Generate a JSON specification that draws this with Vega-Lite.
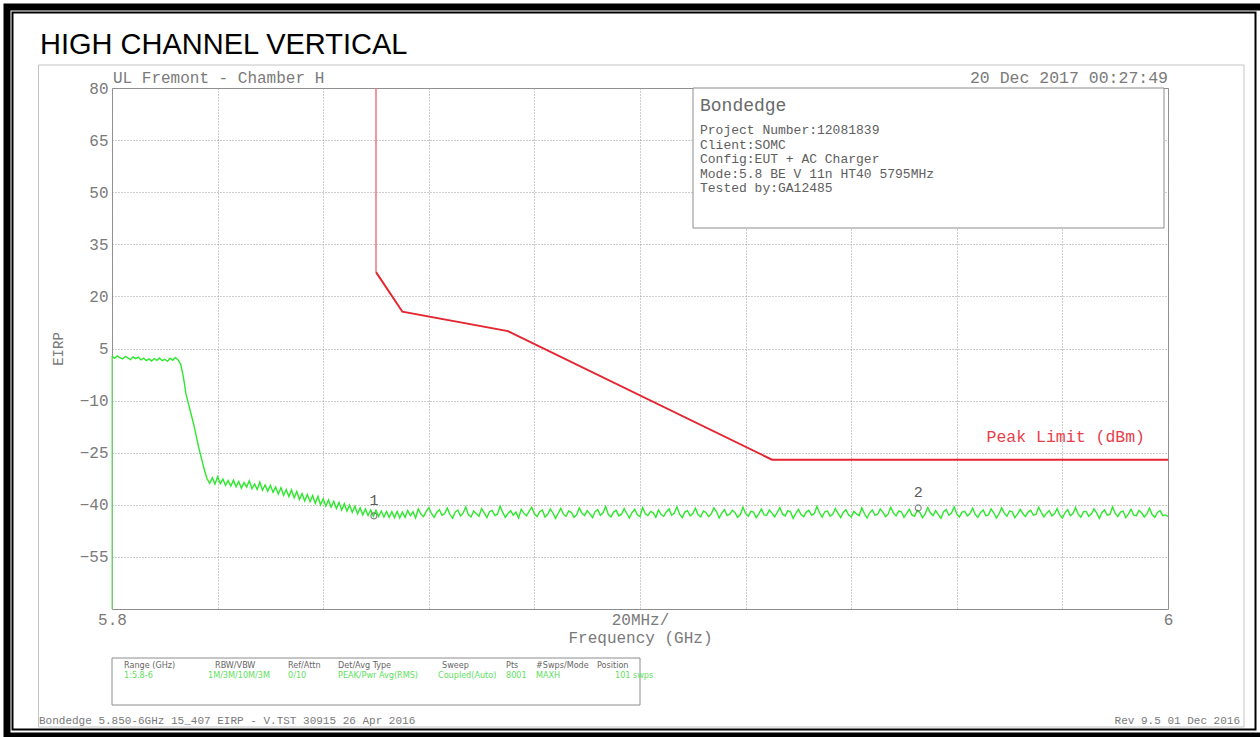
{
  "$schema": "https://vega.github.io/schema/vega-lite/v6.json",
  "width": 1056,
  "height": 521,
  "autosize": {"type": "none"},
  "padding": {"left": 112, "top": 88, "right": 92, "bottom": 128},
  "background": "white",
  "config": {"view": {"stroke": "#8c8c8c", "strokeWidth": 1}},
  "encoding": {
    "x": {
      "field": "f", "type": "quantitative",
      "scale": {"domain": [5.8, 6.0], "nice": false, "zero": false},
      "axis": {
        "values": [5.8, 5.82, 5.84, 5.86, 5.88, 5.9, 5.92, 5.94, 5.96, 5.98, 6],
        "labelExpr": "datum.value == 5.8 ? '5.8' : datum.value == 5.9 ? '20MHz/' : datum.value == 6 ? '6' : ''",
        "title": "Frequency (GHz)",
        "domain": false, "ticks": false, "grid": true,
        "gridColor": "#999999", "gridDash": [1, 2], "gridWidth": 1,
        "labelFont": "Liberation Mono", "labelFontSize": 16, "labelColor": "#7a7a7a",
        "labelPadding": 2, "labelOverlap": false, "labelFlush": false, "labelBound": false,
        "titleFont": "Liberation Mono", "titleFontSize": 16, "titleFontWeight": "normal",
        "titleColor": "#7a7a7a", "titlePadding": 2
      }
    },
    "y": {
      "field": "v", "type": "quantitative",
      "scale": {"domain": [-70, 80], "nice": false, "zero": false},
      "axis": {
        "values": [-55, -40, -25, -10, 5, 20, 35, 50, 65, 80],
        "title": "EIRP",
        "domain": false, "ticks": false, "grid": true,
        "gridColor": "#999999", "gridDash": [1, 2], "gridWidth": 1,
        "labelFont": "Liberation Mono", "labelFontSize": 16, "labelColor": "#7a7a7a",
        "labelPadding": 4, "labelOverlap": false,
        "titleFont": "Liberation Mono", "titleFontSize": 14, "titleFontWeight": "normal",
        "titleColor": "#7a7a7a", "titlePadding": 14
      }
    }
  },
  "layer": [
    {
      "data": {"values": [{"f": 5.780114, "f2": 6.0195, "v": 103.32, "v2": -106.56}]},
      "mark": {"type": "rect", "filled": false, "stroke": "#000000", "strokeWidth": 7},
      "encoding": {"x2": {"field": "f2"}, "y2": {"field": "v2"}}
    },
    {
      "data": {"values": [{"f": 5.781155, "f2": 6.016572, "v": 101.74, "v2": -104.69}]},
      "mark": {"type": "rect", "filled": false, "stroke": "#000000", "strokeWidth": 2},
      "encoding": {"x2": {"field": "f2"}, "y2": {"field": "v2"}}
    },
    {
      "data": {"values": [{"f": 5.78608, "f2": 6.014394, "v": 86.62, "v2": -103.97}]},
      "mark": {"type": "rect", "filled": false, "stroke": "#c4c4c4", "strokeWidth": 1},
      "encoding": {"x2": {"field": "f2"}, "y2": {"field": "v2"}}
    },
    {
      "data": {"values": [{"f": 5.8, "f2": 5.9, "v": -84.11, "v2": -97.64}]},
      "mark": {"type": "rect", "filled": false, "stroke": "#8c8c8c", "strokeWidth": 1},
      "encoding": {"x2": {"field": "f2"}, "y2": {"field": "v2"}}
    },
    {
      "data": {"values": [{"f": 5.910038, "f2": 5.999242, "v": 80, "v2": 39.69}]},
      "mark": {"type": "rect", "fill": "#ffffff", "stroke": "#8c8c8c", "strokeWidth": 1},
      "encoding": {"x2": {"field": "f2"}, "y2": {"field": "v2"}}
    },
    {
      "data": {"values": [{"f": 5.85, "v": 80, "v2": 27}]},
      "mark": {"type": "rule", "color": "#ee6a78", "strokeWidth": 1.4},
      "encoding": {"y2": {"field": "v2"}}
    },
    {
      "data": {"values": [
        {"f": 5.85, "v": 27}, {"f": 5.855, "v": 15.6}, {"f": 5.875, "v": 10},
        {"f": 5.925, "v": -27}, {"f": 6.0, "v": -27}
      ]},
      "mark": {"type": "line", "color": "#e32630", "strokeWidth": 2}
    },
    {
      "data": {"values": [{"f": 5.8, "v": -70, "v2": 2.8}]},
      "mark": {"type": "rule", "color": "#6ee86e", "strokeWidth": 1.2},
      "encoding": {"y2": {"field": "v2"}}
    },
    {
      "data": {"values": [
        {"f":5.8,"v":2.8},{"f":5.8005,"v":2.2},{"f":5.801,"v":2.9},{"f":5.8015,"v":2.4},{"f":5.802,"v":2.0},{"f":5.8025,"v":2.7},
        {"f":5.803,"v":2.3},{"f":5.8035,"v":1.8},{"f":5.804,"v":2.6},{"f":5.8045,"v":2.1},{"f":5.805,"v":2.5},{"f":5.8055,"v":1.7},
        {"f":5.806,"v":2.2},{"f":5.8065,"v":1.5},{"f":5.807,"v":2.0},{"f":5.8075,"v":1.4},{"f":5.808,"v":2.1},{"f":5.8085,"v":1.6},
        {"f":5.809,"v":2.3},{"f":5.8095,"v":1.5},{"f":5.81,"v":1.9},{"f":5.8105,"v":1.3},{"f":5.811,"v":2.2},{"f":5.8115,"v":1.6},
        {"f":5.812,"v":2.4},{"f":5.8125,"v":1.7},
        {"f":5.813,"v":0.5},{"f":5.8135,"v":-3},{"f":5.814,"v":-8},{"f":5.8145,"v":-11},{"f":5.815,"v":-14},{"f":5.8155,"v":-17},
        {"f":5.816,"v":-20.5},{"f":5.8165,"v":-24},{"f":5.817,"v":-27},{"f":5.8175,"v":-30},{"f":5.818,"v":-32.5},{"f":5.8185,"v":-33.8},
        {"f":5.819,"v":-32.2},{"f":5.8195,"v":-34.0},{"f":5.82,"v":-31.9},{"f":5.8205,"v":-33.9},{"f":5.821,"v":-32.6},{"f":5.8215,"v":-34.4},
        {"f":5.822,"v":-33.0},{"f":5.8225,"v":-34.6},{"f":5.823,"v":-32.9},{"f":5.8235,"v":-34.8},{"f":5.824,"v":-33.3},{"f":5.8245,"v":-35.2},
        {"f":5.825,"v":-33.6},{"f":5.8255,"v":-34.9},{"f":5.826,"v":-33.1},{"f":5.8265,"v":-35.4},{"f":5.827,"v":-34.0},{"f":5.8275,"v":-35.6},
        {"f":5.828,"v":-33.5},{"f":5.8285,"v":-35.8},{"f":5.829,"v":-34.3},{"f":5.8295,"v":-36.1},{"f":5.83,"v":-34.4},{"f":5.8305,"v":-36.4},
        {"f":5.831,"v":-34.9},{"f":5.8315,"v":-36.9},{"f":5.832,"v":-35.1},{"f":5.8325,"v":-37.3},{"f":5.833,"v":-35.6},{"f":5.8335,"v":-37.6},
        {"f":5.834,"v":-35.7},{"f":5.8345,"v":-38.0},{"f":5.835,"v":-36.2},{"f":5.8355,"v":-38.5},{"f":5.836,"v":-36.8},{"f":5.8365,"v":-38.9},
        {"f":5.837,"v":-37.0},{"f":5.8375,"v":-39.1},{"f":5.838,"v":-37.3},{"f":5.8385,"v":-39.6},{"f":5.839,"v":-37.6},{"f":5.8395,"v":-40.0},
        {"f":5.84,"v":-38.3},{"f":5.8405,"v":-40.4},{"f":5.841,"v":-38.6},{"f":5.8415,"v":-40.7},{"f":5.842,"v":-39.0},{"f":5.8425,"v":-41.1},
        {"f":5.843,"v":-39.3},{"f":5.8435,"v":-41.5},{"f":5.844,"v":-39.7},{"f":5.8445,"v":-41.8},{"f":5.845,"v":-40.1},{"f":5.8455,"v":-42.2},
        {"f":5.846,"v":-40.4},{"f":5.8465,"v":-42.6},{"f":5.847,"v":-40.9},{"f":5.8475,"v":-42.9},{"f":5.848,"v":-41.2},{"f":5.8485,"v":-43.1},
        {"f":5.849,"v":-41.5},{"f":5.8495,"v":-43.3},{"f":5.85,"v":-41.6},{"f":5.8505,"v":-43.4},{"f":5.851,"v":-41.8},{"f":5.8515,"v":-43.5},
        {"f":5.852,"v":-41.9},{"f":5.8525,"v":-43.6},{"f":5.853,"v":-42.0},{"f":5.8535,"v":-43.7},{"f":5.854,"v":-41.9},{"f":5.8545,"v":-43.8},
        {"f":5.855,"v":-42.1},{"f":5.8555,"v":-43.6},
        {"f":5.856,"v":-41.6},{"f":5.8565,"v":-43.1},{"f":5.857,"v":-42.0},{"f":5.8575,"v":-43.8},{"f":5.858,"v":-41.2},{"f":5.8585,"v":-42.7},
        {"f":5.859,"v":-43.4},{"f":5.8595,"v":-41.9},{"f":5.86,"v":-40.8},{"f":5.8605,"v":-42.5},{"f":5.861,"v":-43.6},{"f":5.8615,"v":-42.2},
        {"f":5.862,"v":-41.4},{"f":5.8625,"v":-43.0},{"f":5.863,"v":-42.6},{"f":5.8635,"v":-40.9},{"f":5.864,"v":-42.8},{"f":5.8645,"v":-43.9},
        {"f":5.865,"v":-42.1},{"f":5.8655,"v":-41.5},{"f":5.866,"v":-43.2},{"f":5.8665,"v":-42.4},{"f":5.867,"v":-40.6},{"f":5.8675,"v":-42.9},
        {"f":5.868,"v":-43.5},{"f":5.8685,"v":-41.8},{"f":5.869,"v":-42.6},{"f":5.8695,"v":-43.3},{"f":5.87,"v":-41.1},{"f":5.8705,"v":-42.3},
        {"f":5.871,"v":-43.7},{"f":5.8715,"v":-42.0},{"f":5.872,"v":-41.6},{"f":5.8725,"v":-43.1},{"f":5.873,"v":-42.7},{"f":5.8735,"v":-40.4},
        {"f":5.874,"v":-42.2},{"f":5.8745,"v":-43.6},{"f":5.875,"v":-42.5},{"f":5.8755,"v":-41.7},{"f":5.876,"v":-43.0},{"f":5.8765,"v":-42.1},
        {"f":5.877,"v":-43.8},{"f":5.8775,"v":-41.3},{"f":5.878,"v":-42.4},{"f":5.8785,"v":-43.2},{"f":5.879,"v":-41.9},{"f":5.8795,"v":-40.7},
        {"f":5.88,"v":-42.6},{"f":5.8805,"v":-43.4},{"f":5.881,"v":-42.0},{"f":5.8815,"v":-41.5},{"f":5.882,"v":-43.5},{"f":5.8825,"v":-42.8},
        {"f":5.883,"v":-41.2},{"f":5.8835,"v":-42.3},{"f":5.884,"v":-43.9},{"f":5.8845,"v":-42.5},{"f":5.885,"v":-41.0},{"f":5.8855,"v":-42.7},
        {"f":5.886,"v":-43.3},{"f":5.8865,"v":-41.8},{"f":5.887,"v":-42.2},{"f":5.8875,"v":-43.6},{"f":5.888,"v":-42.9},{"f":5.8885,"v":-40.9},
        {"f":5.889,"v":-42.4},{"f":5.8895,"v":-43.1},{"f":5.89,"v":-41.7},{"f":5.8905,"v":-42.6},{"f":5.891,"v":-43.7},{"f":5.8915,"v":-42.0},
        {"f":5.892,"v":-41.4},{"f":5.8925,"v":-43.0},{"f":5.893,"v":-42.3},{"f":5.8935,"v":-40.5},{"f":5.894,"v":-42.8},{"f":5.8945,"v":-43.5},
        {"f":5.895,"v":-42.1},{"f":5.8955,"v":-41.6},{"f":5.896,"v":-43.2},{"f":5.8965,"v":-42.7},{"f":5.897,"v":-41.1},{"f":5.8975,"v":-42.5},
        {"f":5.898,"v":-43.8},{"f":5.8985,"v":-42.2},{"f":5.899,"v":-41.3},{"f":5.8995,"v":-42.9},{"f":5.9,"v":-43.4},{"f":5.9005,"v":-40.8},
        {"f":5.901,"v":-42.6},{"f":5.9015,"v":-43.1},{"f":5.902,"v":-41.9},{"f":5.9025,"v":-42.3},{"f":5.903,"v":-43.6},{"f":5.9035,"v":-41.5},
        {"f":5.904,"v":-42.8},{"f":5.9045,"v":-43.3},{"f":5.905,"v":-42.0},{"f":5.9055,"v":-41.2},{"f":5.906,"v":-43.0},{"f":5.9065,"v":-42.4},
        {"f":5.907,"v":-40.6},{"f":5.9075,"v":-42.7},{"f":5.908,"v":-43.7},{"f":5.9085,"v":-42.1},{"f":5.909,"v":-41.7},{"f":5.9095,"v":-43.2},
        {"f":5.91,"v":-42.5},{"f":5.9105,"v":-41.0},{"f":5.911,"v":-42.9},{"f":5.9115,"v":-43.5},{"f":5.912,"v":-41.8},{"f":5.9125,"v":-42.2},
        {"f":5.913,"v":-43.4},{"f":5.9135,"v":-42.6},{"f":5.914,"v":-40.9},{"f":5.9145,"v":-42.0},{"f":5.915,"v":-43.8},{"f":5.9155,"v":-42.4},
        {"f":5.916,"v":-41.4},{"f":5.9165,"v":-43.1},{"f":5.917,"v":-42.7},{"f":5.9175,"v":-41.6},{"f":5.918,"v":-42.3},{"f":5.9185,"v":-43.6},
        {"f":5.919,"v":-42.8},{"f":5.9195,"v":-40.7},{"f":5.92,"v":-42.5},{"f":5.9205,"v":-43.3},{"f":5.921,"v":-41.9},{"f":5.9215,"v":-42.1},
        {"f":5.922,"v":-43.7},{"f":5.9225,"v":-42.6},{"f":5.923,"v":-41.2},{"f":5.9235,"v":-42.9},{"f":5.924,"v":-43.0},{"f":5.9245,"v":-41.5},
        {"f":5.925,"v":-42.4},{"f":5.9255,"v":-43.5},{"f":5.926,"v":-42.2},{"f":5.9265,"v":-40.8},{"f":5.927,"v":-42.7},{"f":5.9275,"v":-43.2},
        {"f":5.928,"v":-41.7},{"f":5.9285,"v":-42.0},{"f":5.929,"v":-43.9},{"f":5.9295,"v":-42.5},{"f":5.93,"v":-41.3},{"f":5.9305,"v":-42.8},
        {"f":5.931,"v":-43.4},{"f":5.9315,"v":-42.1},{"f":5.932,"v":-41.6},{"f":5.9325,"v":-43.0},{"f":5.933,"v":-42.6},{"f":5.9335,"v":-40.5},
        {"f":5.934,"v":-42.3},{"f":5.9345,"v":-43.6},{"f":5.935,"v":-42.0},{"f":5.9355,"v":-41.8},{"f":5.936,"v":-43.3},{"f":5.9365,"v":-42.7},
        {"f":5.937,"v":-41.1},{"f":5.9375,"v":-42.4},{"f":5.938,"v":-43.7},{"f":5.9385,"v":-42.2},{"f":5.939,"v":-41.4},{"f":5.9395,"v":-42.9},
        {"f":5.94,"v":-43.5},{"f":5.9405,"v":-41.9},{"f":5.941,"v":-42.6},{"f":5.9415,"v":-43.1},{"f":5.942,"v":-40.9},{"f":5.9425,"v":-42.5},
        {"f":5.943,"v":-43.8},{"f":5.9435,"v":-42.3},{"f":5.944,"v":-41.5},{"f":5.9445,"v":-43.0},{"f":5.945,"v":-42.8},{"f":5.9455,"v":-41.2},
        {"f":5.946,"v":-42.1},{"f":5.9465,"v":-43.4},{"f":5.947,"v":-42.7},{"f":5.9475,"v":-40.7},{"f":5.948,"v":-42.4},{"f":5.9485,"v":-43.2},
        {"f":5.949,"v":-41.8},{"f":5.9495,"v":-42.0},{"f":5.95,"v":-43.6},{"f":5.9505,"v":-42.5},{"f":5.951,"v":-41.3},{"f":5.9515,"v":-42.9},
        {"f":5.952,"v":-43.3},{"f":5.9525,"v":-41.6},{"f":5.953,"v":-42.2},{"f":5.9535,"v":-43.7},{"f":5.954,"v":-42.6},{"f":5.9545,"v":-40.8},
        {"f":5.955,"v":-42.3},{"f":5.9555,"v":-43.1},{"f":5.956,"v":-41.7},{"f":5.9565,"v":-42.8},{"f":5.957,"v":-43.9},{"f":5.9575,"v":-42.0},
        {"f":5.958,"v":-41.4},{"f":5.9585,"v":-43.0},{"f":5.959,"v":-42.4},{"f":5.9595,"v":-40.6},{"f":5.96,"v":-42.7},{"f":5.9605,"v":-43.5},
        {"f":5.961,"v":-42.1},{"f":5.9615,"v":-41.9},{"f":5.962,"v":-43.2},{"f":5.9625,"v":-42.5},{"f":5.963,"v":-41.0},{"f":5.9635,"v":-42.8},
        {"f":5.964,"v":-43.6},{"f":5.9645,"v":-42.2},{"f":5.965,"v":-41.5},{"f":5.9655,"v":-43.1},{"f":5.966,"v":-42.9},{"f":5.9665,"v":-41.2},
        {"f":5.967,"v":-42.3},{"f":5.9675,"v":-43.8},{"f":5.968,"v":-42.6},{"f":5.9685,"v":-40.9},{"f":5.969,"v":-42.4},{"f":5.9695,"v":-43.3},
        {"f":5.97,"v":-41.8},{"f":5.9705,"v":-42.0},{"f":5.971,"v":-43.7},{"f":5.9715,"v":-42.7},{"f":5.972,"v":-41.3},{"f":5.9725,"v":-42.5},
        {"f":5.973,"v":-43.4},{"f":5.9735,"v":-42.1},{"f":5.974,"v":-41.6},{"f":5.9745,"v":-43.0},{"f":5.975,"v":-42.8},{"f":5.9755,"v":-40.7},
        {"f":5.976,"v":-42.2},{"f":5.9765,"v":-43.5},{"f":5.977,"v":-42.4},{"f":5.9775,"v":-41.7},{"f":5.978,"v":-43.2},{"f":5.9785,"v":-42.6},
        {"f":5.979,"v":-41.1},{"f":5.9795,"v":-42.9},{"f":5.98,"v":-43.8},{"f":5.9805,"v":-42.3},{"f":5.981,"v":-41.4},{"f":5.9815,"v":-43.1},
        {"f":5.982,"v":-42.5},{"f":5.9825,"v":-40.8},{"f":5.983,"v":-42.7},{"f":5.9835,"v":-43.6},{"f":5.984,"v":-42.0},{"f":5.9845,"v":-41.9},
        {"f":5.985,"v":-43.3},{"f":5.9855,"v":-42.6},{"f":5.986,"v":-41.2},{"f":5.9865,"v":-42.4},{"f":5.987,"v":-43.9},{"f":5.9875,"v":-42.2},
        {"f":5.988,"v":-41.5},{"f":5.9885,"v":-43.0},{"f":5.989,"v":-42.8},{"f":5.9895,"v":-40.6},{"f":5.99,"v":-42.5},{"f":5.9905,"v":-43.4},
        {"f":5.991,"v":-42.1},{"f":5.9915,"v":-41.8},{"f":5.992,"v":-43.7},{"f":5.9925,"v":-42.7},{"f":5.993,"v":-41.3},{"f":5.9935,"v":-42.9},
        {"f":5.994,"v":-43.2},{"f":5.9945,"v":-41.6},{"f":5.995,"v":-42.3},{"f":5.9955,"v":-43.5},{"f":5.996,"v":-42.6},{"f":5.9965,"v":-41.0},
        {"f":5.997,"v":-42.8},{"f":5.9975,"v":-43.6},{"f":5.998,"v":-42.2},{"f":5.9985,"v":-41.7},{"f":5.999,"v":-43.1},{"f":5.9995,"v":-42.9},
        {"f":6.0,"v":-43.3}
      ]},
      "mark": {"type": "line", "color": "#2de82d", "strokeWidth": 1.4}
    },
    {
      "data": {"values": [{"f": 5.8496, "v": -43.2, "t": "1"}, {"f": 5.9527, "v": -40.9, "t": "2"}]},
      "mark": {"type": "point", "shape": "circle", "filled": false, "color": "#5a5a5a", "size": 36, "strokeWidth": 1.2}
    },
    {
      "data": {"values": [{"f": 5.8496, "v": -43.2, "t": "1"}, {"f": 5.9527, "v": -40.9, "t": "2"}]},
      "mark": {"type": "text", "font": "Liberation Mono", "fontSize": 15, "color": "#5a5a5a", "dy": -16, "baseline": "middle", "align": "center"},
      "encoding": {"text": {"field": "t"}}
    },
    {
      "data": {"values": [{"f": 5.786364, "v": 89.79, "t": "HIGH CHANNEL VERTICAL"}]},
      "mark": {"type": "text", "font": "Liberation Sans", "fontSize": 29, "color": "#000000", "align": "left", "baseline": "alphabetic"},
      "encoding": {"text": {"field": "t"}}
    },
    {
      "data": {"values": [{"f": 5.800189, "v": 83.0, "t": "UL Fremont - Chamber H"}]},
      "mark": {"type": "text", "font": "Liberation Mono", "fontSize": 16, "color": "#7a7a7a", "align": "left", "baseline": "middle"},
      "encoding": {"text": {"field": "t"}}
    },
    {
      "data": {"values": [{"f": 6.0, "v": 83.0, "t": "20 Dec 2017  00:27:49"}]},
      "mark": {"type": "text", "font": "Liberation Mono", "fontSize": 16.5, "color": "#7a7a7a", "align": "right", "baseline": "middle"},
      "encoding": {"text": {"field": "t"}}
    },
    {
      "data": {"values": [{"f": 5.911364, "v": 74.82, "t": "Bondedge"}]},
      "mark": {"type": "text", "font": "Liberation Mono", "fontSize": 18, "color": "#6a6a6a", "align": "left", "baseline": "middle"},
      "encoding": {"text": {"field": "t"}}
    },
    {
      "data": {"values": [
        {"f": 5.911364, "v": 67.91, "t": "Project Number:12081839"},
        {"f": 5.911364, "v": 63.73, "t": "Client:SOMC"},
        {"f": 5.911364, "v": 59.56, "t": "Config:EUT + AC Charger"},
        {"f": 5.911364, "v": 55.38, "t": "Mode:5.8 BE V 11n HT40 5795MHz"},
        {"f": 5.911364, "v": 51.21, "t": "Tested by:GA12485"}
      ]},
      "mark": {"type": "text", "font": "Liberation Mono", "fontSize": 13, "color": "#5e5e5e", "align": "left", "baseline": "middle"},
      "encoding": {"text": {"field": "t"}}
    },
    {
      "data": {"values": [{"f": 5.995644, "v": -20.48, "t": "Peak Limit (dBm)"}]},
      "mark": {"type": "text", "font": "Liberation Mono", "fontSize": 16.5, "color": "#e8404a", "align": "right", "baseline": "middle"},
      "encoding": {"text": {"field": "t"}}
    },
    {
      "data": {"values": [
        {"f": 5.802273, "v": -86.12, "t": "Range (GHz)"},
        {"f": 5.819508, "v": -86.12, "t": "RBW/VBW"},
        {"f": 5.833333, "v": -86.12, "t": "Ref/Attn"},
        {"f": 5.842803, "v": -86.12, "t": "Det/Avg Type"},
        {"f": 5.8625, "v": -86.12, "t": "Sweep"},
        {"f": 5.874621, "v": -86.12, "t": "Pts"},
        {"f": 5.880303, "v": -86.12, "t": "#Swps/Mode"},
        {"f": 5.891856, "v": -86.12, "t": "Position"}
      ]},
      "mark": {"type": "text", "font": "Liberation Sans Narrow, DejaVu Sans Condensed, Liberation Sans", "fontSize": 9, "color": "#666666", "align": "left", "baseline": "middle"},
      "encoding": {"text": {"field": "t"}}
    },
    {
      "data": {"values": [
        {"f": 5.802273, "v": -89.0, "t": "1:5.8-6"},
        {"f": 5.818182, "v": -89.0, "t": "1M/3M/10M/3M"},
        {"f": 5.833333, "v": -89.0, "t": "0/10"},
        {"f": 5.842803, "v": -89.0, "t": "PEAK/Pwr Avg(RMS)"},
        {"f": 5.861742, "v": -89.0, "t": "Coupled(Auto)"},
        {"f": 5.874621, "v": -89.0, "t": "8001"},
        {"f": 5.880303, "v": -89.0, "t": "MAXH"},
        {"f": 5.895265, "v": -89.0, "t": "101 swps"}
      ]},
      "mark": {"type": "text", "font": "Liberation Sans Narrow, DejaVu Sans Condensed, Liberation Sans", "fontSize": 9, "color": "#5ee05e", "align": "left", "baseline": "middle"},
      "encoding": {"text": {"field": "t"}}
    },
    {
      "data": {"values": [{"f": 5.786174, "v": -102.25, "t": "Bondedge 5.850-6GHz 15_407 EIRP - V.TST 30915 26 Apr 2016"}]},
      "mark": {"type": "text", "font": "Liberation Mono", "fontSize": 11, "color": "#7a7a7a", "align": "left", "baseline": "middle"},
      "encoding": {"text": {"field": "t"}}
    },
    {
      "data": {"values": [{"f": 6.013636, "v": -102.25, "t": "Rev 9.5 01 Dec 2016"}]},
      "mark": {"type": "text", "font": "Liberation Mono", "fontSize": 11, "color": "#7a7a7a", "align": "right", "baseline": "middle"},
      "encoding": {"text": {"field": "t"}}
    }
  ]
}
